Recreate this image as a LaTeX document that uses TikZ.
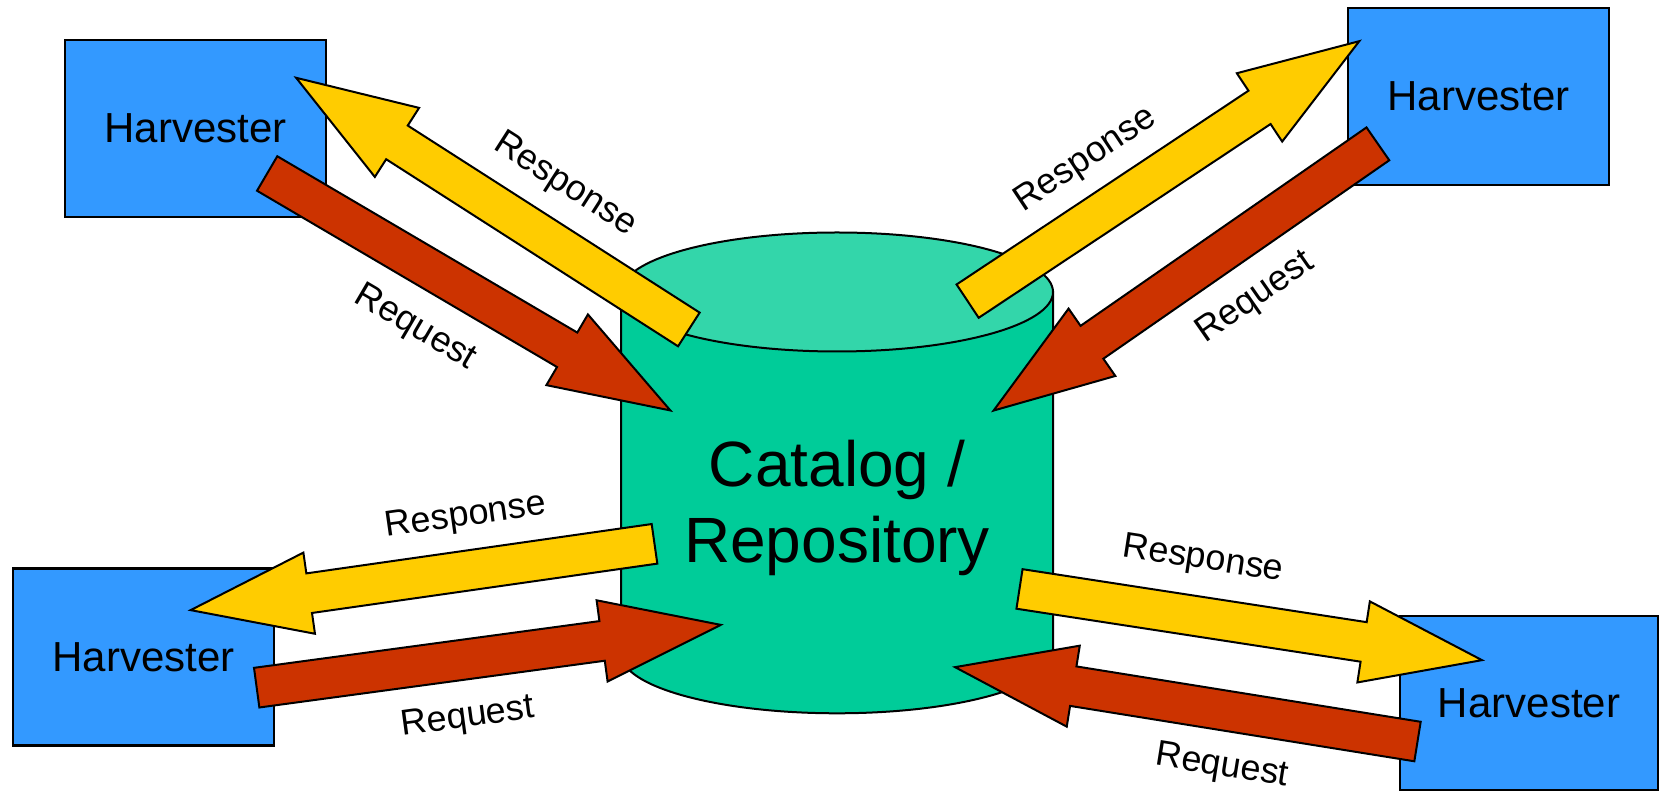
\documentclass[tikz,border=0pt]{standalone}
\usepackage{fontspec}
\setmainfont{Liberation Sans}
\usetikzlibrary{shapes.arrows, calc, positioning}
\definecolor{hblue}{HTML}{3399FF}
\definecolor{repobody}{HTML}{00CC99}
\definecolor{repotop}{HTML}{33D6AA}
\definecolor{resyellow}{HTML}{FFCC00}
\definecolor{reqred}{HTML}{CC3300}
\tikzset{
  harvester/.style={draw, line width=2.5pt, fill=hblue, minimum width=261pt,
    minimum height=177pt, font=\fontsize{42}{50}\selectfont},
  flow/.style={single arrow, draw, line width=2pt, inner xsep=0pt, inner ysep=19pt,
    single arrow head extend=21pt, single arrow tip angle=37.8, anchor=tail},
  request/.style={flow, fill=reqred},
  response/.style={flow, fill=resyellow},
  flowlabel/.style={font=\fontsize{36}{40}\selectfont},
}
\newcommand\flowarrow[3]{%
  \path let \p1=($(#3)-(#2)$), \n1={atan2(\y1,\x1)}, \n2={veclen(\x1,\y1)} in
    node[#1, minimum height=\n2, rotate=\n1] at (#2) {};}

\begin{document}
\begin{tikzpicture}[x=1pt, y=1pt]
  \useasboundingbox (0,0) rectangle (1660,792);

  \node[harvester] (h1) at (195.5,663.5) {Harvester};
  \node[harvester] (h2) at (1478.5,695.5) {Harvester};
  \node[harvester] (h3) at (143.5,135) {Harvester};
  \node[harvester, minimum width=258pt, minimum height=174pt] (h4) at (1529,89) {Harvester};

  \draw[line width=2pt, fill=repobody] (621,500) -- (621,138.2)
    arc[start angle=180, end angle=360, x radius=216, y radius=59.5] -- (1053,500) -- cycle;
  \draw[line width=2pt, fill=repotop] (837,500) ellipse [x radius=216, y radius=59.5];
  \node[align=center, font=\fontsize{64}{76}\selectfont] (repo) at (837,284) {Catalog /\\Repository};

  \coordinate (res1a) at (689.7,462);    \coordinate (res1b) at (296.9,713.7);
  \coordinate (req1a) at (266.3,619);    \coordinate (req1b) at (669.6,382);
  \coordinate (res2a) at (966.8,490.3);  \coordinate (res2b) at (1358.5,750.3);
  \coordinate (req2a) at (1378.7,648.7); \coordinate (req2b) at (994.4,382);
  \coordinate (res3a) at (655.5,248.3);  \coordinate (res3b) at (191.6,182);
  \coordinate (req3a) at (255.7,104.2);  \coordinate (req3b) at (719.8,167);
  \coordinate (res4a) at (1018.5,203.2); \coordinate (res4b) at (1481,132);
  \coordinate (req4a) at (1418.5,50.3);  \coordinate (req4b) at (956,124.7);

  \flowarrow{response}{res1a}{res1b}
  \flowarrow{request}{req1a}{req1b}
  \flowarrow{response}{res2a}{res2b}
  \flowarrow{request}{req2a}{req2b}
  \flowarrow{response}{res3a}{res3b}
  \flowarrow{request}{req3a}{req3b}
  \flowarrow{response}{res4a}{res4b}
  \flowarrow{request}{req4a}{req4b}

  \node[flowlabel, rotate=-32.6] (res1l) at (565,607) {Response};
  \node[flowlabel, rotate=-30.4] (req1l) at (415,464) {Request};
  \node[flowlabel, rotate=33.6] (res2l) at (1086,632) {Response};
  \node[flowlabel, rotate=34.8] (req2l) at (1255.5,494) {Request};
  \node[flowlabel, rotate=8.1] (res3l) at (466,275) {Response};
  \node[flowlabel, rotate=7.7] (req3l) at (468,74) {Request};
  \node[flowlabel, rotate=-8.75] (res4l) at (1203,232) {Response};
  \node[flowlabel, rotate=-9.1] (req4l) at (1222,25) {Request};
\end{tikzpicture}
\end{document}
